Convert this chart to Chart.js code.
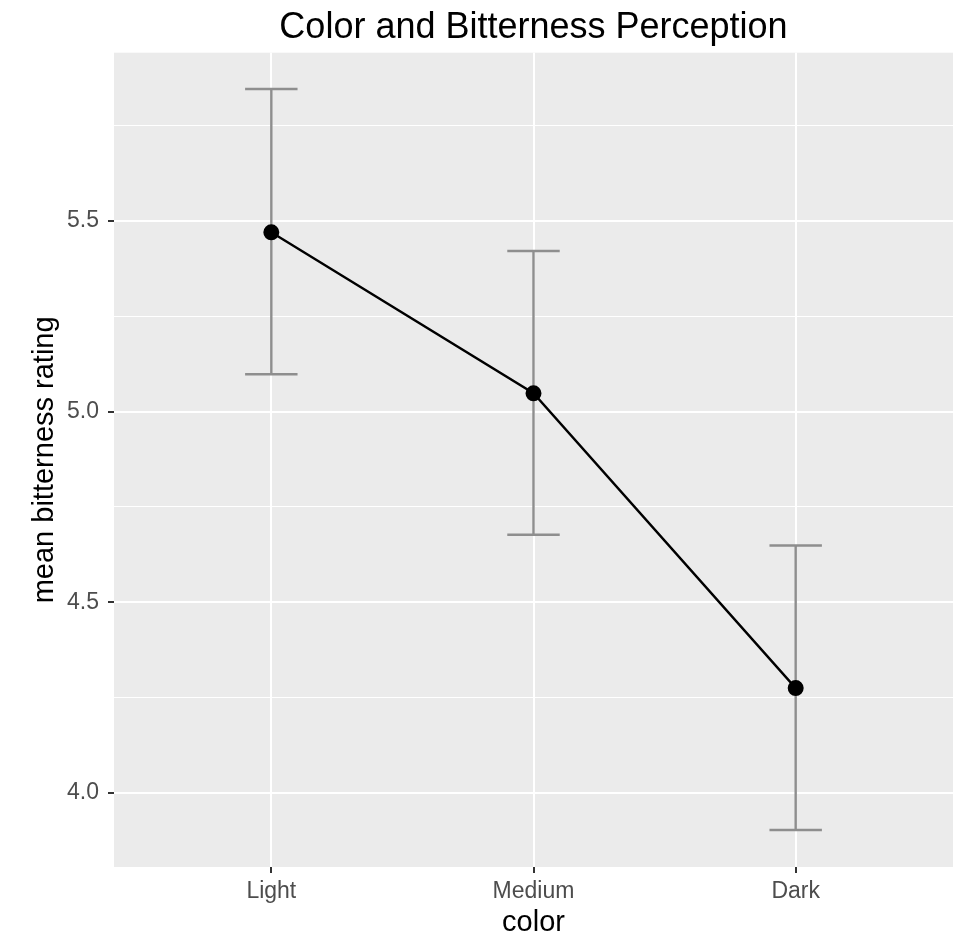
<!DOCTYPE html>
<html>
<head>
<meta charset="utf-8">
<script src="https://cdn.jsdelivr.net/npm/chart.js@4.4.0/dist/chart.umd.min.js"></script>
<style>
  html, body { margin: 0; padding: 0; background: #fff; }
  #wrap { width: 953px; height: 947px; }
</style>
</head>
<body>
<div id="wrap"><canvas id="myChart" width="953" height="947"></canvas></div>
<script>
const categories = ['Light', 'Medium', 'Dark'];
const meanRating = [5.470, 5.048, 4.275];
const lowerBound = [5.098, 4.677, 3.903];
const upperBound = [5.846, 5.421, 4.649];
const yBreaks = [4.0, 4.5, 5.0, 5.5];
const yMinorBreaks = [4.25, 4.75, 5.25, 5.75];

const FONT = 'Liberation Sans, Arial, Helvetica, sans-serif';

// grey panel behind the plot, like ggplot's theme_gray
const panelBg = {
    id: 'panelBg',
    afterLayout(chart) {
        // centre the title over the panel, not over the whole canvas
        if (chart.titleBlock) chart.titleBlock.left = chart.chartArea.left;
    },
    beforeDraw(chart) {
        const {ctx, chartArea: a} = chart;
        ctx.save();
        ctx.fillStyle = '#ebebeb';
        ctx.fillRect(a.left, a.top, a.right - a.left, a.bottom - a.top);
        ctx.restore();
    }
};

// error bars from lowerBound / upperBound, drawn under the line
const errorBars = {
    id: 'errorBars',
    beforeDatasetsDraw(chart) {
        const {ctx, scales: {x, y}} = chart;
        ctx.save();
        ctx.strokeStyle = '#8e8e8e';
        ctx.lineWidth = 2.4;
        categories.forEach((c, i) => {
            const px = x.getPixelForValue(i);
            const half = x.getPixelForValue(i + 0.1) - px;
            const yLo = y.getPixelForValue(lowerBound[i]);
            const yHi = y.getPixelForValue(upperBound[i]);
            ctx.beginPath();
            ctx.moveTo(px, yLo); ctx.lineTo(px, yHi);
            ctx.moveTo(px - half, yLo); ctx.lineTo(px + half, yLo);
            ctx.moveTo(px - half, yHi); ctx.lineTo(px + half, yHi);
            ctx.stroke();
        });
        ctx.restore();
    }
};

const data = {
    datasets: [{
        label: 'mean bitterness rating',
        data: meanRating.map((m, i) => ({x: i, y: m})),
        borderColor: '#000',
        backgroundColor: '#000',
        borderWidth: 2.4,
        pointRadius: 6.8,
        pointHoverRadius: 6.8,
        tension: 0
    }]
};

const config = {
    type: 'line',
    data: data,
    plugins: [panelBg, errorBars],
    options: {
        responsive: false,
        animation: false,
        layout: { autoPadding: false, padding: 0 },
        plugins: {
            legend: { display: false },
            tooltip: { enabled: false },
            title: {
                display: true,
                text: 'Color and Bitterness Perception',
                color: '#000',
                font: { family: FONT, size: 36, weight: 'normal' },
                padding: { top: 6, bottom: 3.5 }
            }
        },
        scales: {
            x: {
                type: 'linear',
                min: -0.6,
                max: 2.6,
                afterBuildTicks: (s) => { s.ticks = categories.map((c, i) => ({value: i})); },
                afterFit: (s) => { s.height = 80; },
                border: { display: false },
                grid: {
                    color: '#ffffff',
                    lineWidth: 2,
                    tickLength: 6,
                    tickColor: '#333333',
                    tickWidth: 2
                },
                ticks: {
                    color: '#4d4d4d',
                    font: { family: FONT, size: 23 },
                    padding: 5,
                    maxRotation: 0,
                    callback: (v) => categories[v]
                },
                title: {
                    display: true,
                    text: 'color',
                    color: '#000',
                    font: { family: FONT, size: 29 },
                    padding: { top: 0, bottom: 7 }
                }
            },
            y: {
                type: 'linear',
                min: 3.806,
                max: 5.941,
                afterBuildTicks: (s) => {
                    s.ticks = yBreaks.concat(yMinorBreaks).sort((a, b) => a - b).map(v => ({value: v}));
                },
                afterFit: (s) => { s.width = 114; },
                border: { display: false },
                grid: {
                    color: '#ffffff',
                    lineWidth: (c) => yBreaks.includes(c.tick.value) ? 2 : 1,
                    tickLength: 6,
                    tickColor: (c) => yBreaks.includes(c.tick.value) ? '#333333' : 'rgba(0,0,0,0)',
                    tickWidth: 2
                },
                ticks: {
                    color: '#4d4d4d',
                    font: { family: FONT, size: 23 },
                    padding: 9,
                    callback: (v) => yBreaks.includes(v) ? v.toFixed(1) : ''
                },
                title: {
                    display: true,
                    text: 'mean bitterness rating',
                    color: '#000',
                    font: { family: FONT, size: 29 },
                    padding: { top: 27.6, bottom: 0 }
                }
            }
        }
    }
};

const myChart = new Chart(document.getElementById('myChart'), config);
</script>
</body>
</html>
